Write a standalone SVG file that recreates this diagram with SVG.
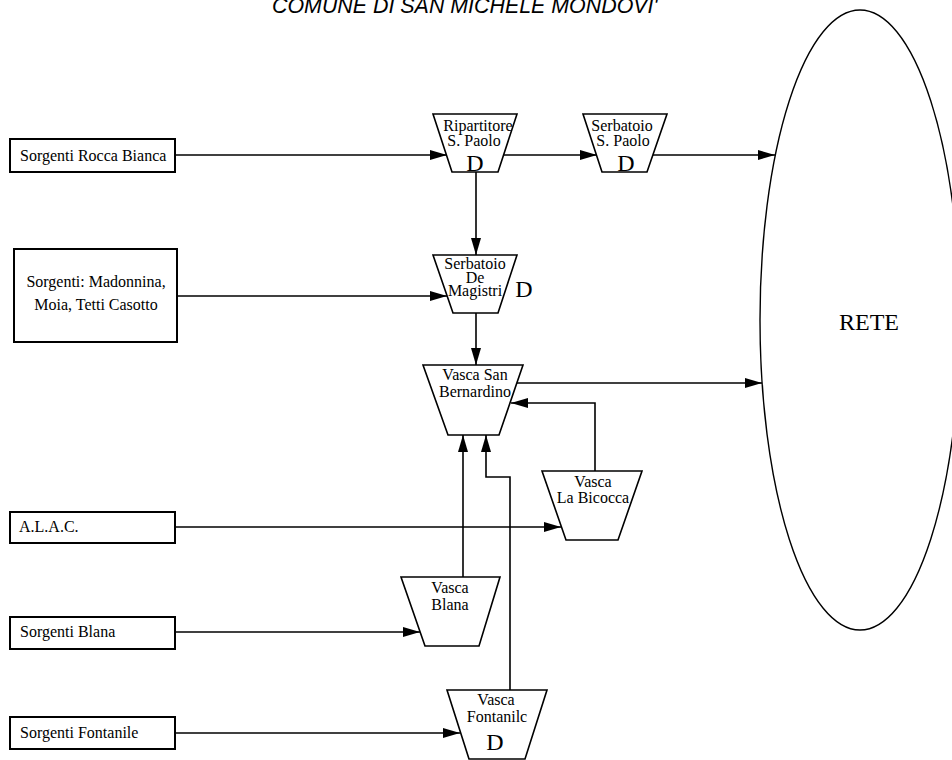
<svg xmlns="http://www.w3.org/2000/svg" width="952" height="760" viewBox="0 0 952 760">
<defs>
<marker id="ah" markerUnits="userSpaceOnUse" markerWidth="17" markerHeight="10" refX="17" refY="5" orient="auto">
<path d="M0,0 L17,5 L0,10 z" fill="#000"/>
</marker>
<style>
.box{fill:#fff;stroke:#000;stroke-width:2}
.trap{fill:#fff;stroke:#000;stroke-width:1.6}
.t{font-family:"Liberation Serif","Times New Roman",serif;font-size:16px;fill:#000}
.c{text-anchor:middle}
.d{font-family:"Liberation Serif","Times New Roman",serif;font-size:24px;fill:#000;text-anchor:middle}
.ln{fill:none;stroke:#000;stroke-width:1.6}
.la{fill:none;stroke:#000;stroke-width:1.6;marker-end:url(#ah)}
</style>
</defs>
<rect width="952" height="760" fill="#fff"/>
<text x="272" y="13" font-family="Liberation Sans, Arial, sans-serif" font-style="italic" font-size="21.4">COMUNE DI SAN MICHELE MONDOVI'</text>

<g id="rete">
<ellipse cx="860" cy="320" rx="100" ry="310" fill="#fff" stroke="#000" stroke-width="1.4"/>
<text x="869" y="330" class="d" font-size="24">RETE</text>
</g>

<g id="connectors">
<line class="la" x1="175" y1="155" x2="447" y2="155"/>
<line class="la" x1="504" y1="155" x2="597" y2="155"/>
<line class="la" x1="653" y1="155" x2="775" y2="155"/>
<line class="la" x1="476" y1="172" x2="476" y2="255"/>
<line class="la" x1="177" y1="296" x2="447" y2="296"/>
<line class="la" x1="476" y1="313" x2="476" y2="365"/>
<line class="la" x1="517" y1="383" x2="762" y2="383"/>
<polyline class="la" points="595,471 595,403 511,403"/>
<line class="la" x1="175" y1="527" x2="561" y2="527"/>
<line class="la" x1="463" y1="577" x2="463" y2="435"/>
<polyline class="la" points="510,690 510,477 486,477 486,435"/>
<line class="la" x1="175" y1="632" x2="420" y2="632"/>
<line class="la" x1="175" y1="733" x2="460" y2="733"/>
</g>

<g id="src-rocca">
<rect class="box" x="10" y="139" width="165" height="33"/>
<text class="t" x="20" y="161">Sorgenti Rocca Bianca</text>
</g>
<g id="src-madonnina">
<rect class="box" x="14" y="249" width="163" height="93"/>
<text class="t c" x="96" y="287">Sorgenti: Madonnina,</text>
<text class="t c" x="96" y="310">Moia, Tetti Casotto</text>
</g>
<g id="src-alac">
<rect class="box" x="10" y="512" width="165" height="31"/>
<text class="t" x="19" y="532">A.L.A.C.</text>
</g>
<g id="src-blana">
<rect class="box" x="10" y="617" width="165" height="32"/>
<text class="t" x="20" y="637">Sorgenti Blana</text>
</g>
<g id="src-fontanile">
<rect class="box" x="10" y="717" width="165" height="32"/>
<text class="t" x="20" y="738">Sorgenti Fontanile</text>
</g>

<g id="ripartitore">
<polygon class="trap" points="433,114 517,114 498,172 452,172"/>
<text class="t c" x="478" y="131">Ripartitore</text>
<text class="t c" x="474" y="146">S. Paolo</text>
<text class="d" x="475" y="171">D</text>
</g>
<g id="serbatoio-spaolo">
<polygon class="trap" points="583,114 667,114 647,172 602,172"/>
<text class="t c" x="622" y="131">Serbatoio</text>
<text class="t c" x="623" y="146">S. Paolo</text>
<text class="d" x="626" y="171">D</text>
</g>
<g id="demagistri">
<polygon class="trap" points="433,255 517,255 498,313 453,313"/>
<text class="t c" x="475" y="269">Serbatoio</text>
<text class="t c" x="475" y="283">De</text>
<text class="t c" x="475" y="296">Magistri</text>
<text class="d" x="524" y="297">D</text>
</g>
<g id="sanbernardino">
<polygon class="trap" points="423,365 523,365 499,435 448,435"/>
<text class="t c" x="475" y="380">Vasca San</text>
<text class="t c" x="475" y="397">Bernardino</text>
</g>
<g id="bicocca">
<polygon class="trap" points="542,471 642,471 618,540 566,540"/>
<text class="t c" x="593" y="487">Vasca</text>
<text class="t c" x="593" y="503">La Bicocca</text>
</g>
<g id="blana">
<polygon class="trap" points="401,577 500,577 479,646 425,646"/>
<text class="t c" x="450" y="593">Vasca</text>
<text class="t c" x="450" y="610">Blana</text>
</g>
<g id="fontanile">
<polygon class="trap" points="447,690 547,690 525,759 469,759"/>
<text class="t c" x="496" y="705">Vasca</text>
<text class="t c" x="497" y="722">Fontanilc</text>
<text class="d" x="495" y="750">D</text>
</g>
</svg>
